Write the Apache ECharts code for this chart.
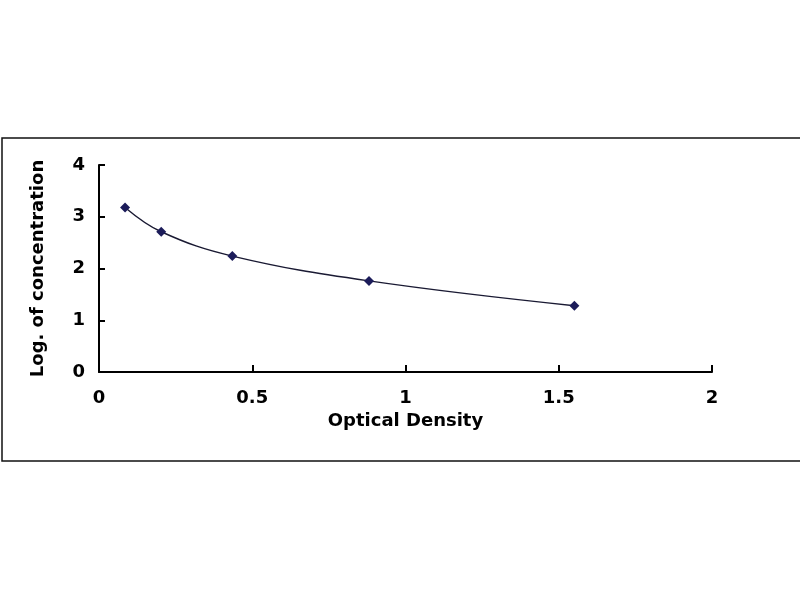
<!DOCTYPE html>
<html>
<head>
<meta charset="utf-8">
<script src="https://cdn.jsdelivr.net/npm/echarts@6/dist/echarts.min.js"></script>
<style>
  html, body { margin: 0; padding: 0; background: #fff; }
  #chart { width: 800px; height: 600px; }
</style>
</head>
<body>
<div id="chart"></div>
<script>
// standard curve points
var opticalDensity = [0.085, 0.203, 0.435, 0.881, 1.551];
var logConc = [3.18, 2.71, 2.24, 1.76, 1.28];

var points = [];
for (var i = 0; i < opticalDensity.length; i++) {
  points.push([opticalDensity[i], logConc[i]]);
}

var labelFont = {
  color: '#000',
  fontFamily: 'DejaVu Sans, sans-serif',
  fontWeight: 'bold',
  fontSize: 18
};

var myChart = echarts.init(document.getElementById('chart'));
myChart.setOption({
  backgroundColor: '#fff',
  animation: false,
  graphic: [
    {
      type: 'rect',
      shape: { x: 2, y: 138, width: 810, height: 323 },
      style: { fill: 'none', stroke: '#111', lineWidth: 1.5 },
      silent: true
    }
  ],
  grid: { left: 99, right: 88, top: 165, bottom: 228 },
  xAxis: {
    type: 'value',
    min: 0,
    max: 2,
    interval: 0.5,
    name: 'Optical Density',
    nameLocation: 'middle',
    nameGap: 40,
    nameTextStyle: labelFont,
    axisLine: { lineStyle: { color: '#000', width: 2 } },
    axisTick: { inside: true, length: 7, lineStyle: { color: '#000', width: 2 } },
    axisLabel: Object.assign({ margin: 17 }, labelFont),
    splitLine: { show: false }
  },
  yAxis: {
    type: 'value',
    min: 0,
    max: 4,
    interval: 1,
    name: 'Log. of concentration',
    nameLocation: 'middle',
    nameGap: 52,
    nameTextStyle: labelFont,
    axisLine: { show: true, lineStyle: { color: '#000', width: 2 } },
    axisTick: { show: true, inside: true, length: 6, lineStyle: { color: '#000', width: 2 } },
    axisLabel: Object.assign({ margin: 14 }, labelFont),
    splitLine: { show: false }
  },
  series: [
    {
      type: 'line',
      data: points,
      smooth: 0.4,
      symbol: 'diamond',
      symbolSize: 10,
      itemStyle: { color: '#1c1c5a' },
      lineStyle: { color: '#1a1a33', width: 1.4 }
    }
  ]
});
</script>
</body>
</html>
